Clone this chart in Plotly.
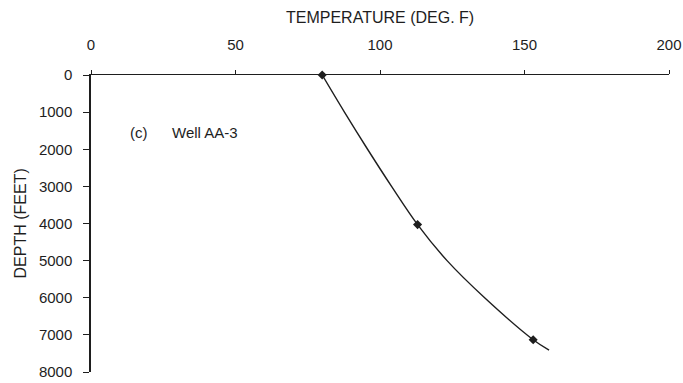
import plotly.graph_objects as go

# Measured data points (temperature deg F, depth ft)
point_temp = [80, 113, 153]
point_depth = [0, 4030, 7130]

# Fitted curve
curve_temp = [80, 87.7, 95.7, 104.0, 113, 123.2, 136.2, 153, 158.5]
curve_depth = [0, 1000, 2000, 3000, 4030, 5000, 6000, 7130, 7410]

x_ticks = [0, 50, 100, 150, 200]
y_ticks = [0, 1000, 2000, 3000, 4000, 5000, 6000, 7000, 8000]

x_title = "TEMPERATURE (DEG. F)"
y_title = "DEPTH (FEET)"
panel_label = "(c)"
well_label = "Well AA-3"

font_family = "Liberation Sans, Arial, sans-serif"
ink = "#1e1e1e"

fig = go.Figure()
fig.add_trace(go.Scatter(
    x=curve_temp, y=curve_depth, mode="lines",
    line=dict(color=ink, width=1.4, shape="spline", smoothing=1.0),
    hoverinfo="skip", showlegend=False))
fig.add_trace(go.Scatter(
    x=point_temp, y=point_depth, mode="markers",
    marker=dict(color=ink, size=7, symbol="diamond"),
    showlegend=False, cliponaxis=False))

fig.add_annotation(x=12.8, y=1550, xref="x", yref="y", text=panel_label,
                   showarrow=False, xanchor="left", yanchor="middle",
                   font=dict(family=font_family, size=15, color=ink))
fig.add_annotation(x=27.5, y=1550, xref="x", yref="y", text=well_label,
                   showarrow=False, xanchor="left", yanchor="middle",
                   font=dict(family=font_family, size=15, color=ink))

# axis titles as paper annotations
fig.add_annotation(x=0.5, y=1, xref="paper", yref="paper", yshift=58,
                   text=x_title, showarrow=False, xanchor="center",
                   yanchor="middle",
                   font=dict(family=font_family, size=16, color=ink))
fig.add_annotation(x=0, y=0.5, xref="paper", yref="paper", xshift=-71,
                   text=y_title, showarrow=False, textangle=-90,
                   xanchor="center", yanchor="middle",
                   font=dict(family=font_family, size=16, color=ink))

fig.update_layout(
    width=683, height=383,
    margin=dict(l=91, r=14, t=75, b=11, autoexpand=False),
    paper_bgcolor="white", plot_bgcolor="white",
    font=dict(family=font_family, size=15, color=ink),
    xaxis=dict(
        range=[0, 200], side="top", tickvals=x_ticks,
        showline=True, linecolor=ink, linewidth=1,
        ticks="outside", ticklen=4, tickcolor=ink,
        showgrid=False, zeroline=False, automargin=False,
        ticklabelstandoff=14,
        tickfont=dict(size=15)),
    yaxis=dict(
        range=[8000, 0], tickvals=y_ticks,
        showline=True, linecolor=ink, linewidth=1.5,
        ticks="outside", ticklen=6, tickcolor=ink,
        showgrid=False, zeroline=False, automargin=False,
        ticklabelstandoff=8,
        tickfont=dict(size=15)),
)

fig.write_html(
    "out.html",
    config={"displayModeBar": False},
    post_script="document.body.style.margin='0';"
                "document.body.style.overflow='hidden';")
